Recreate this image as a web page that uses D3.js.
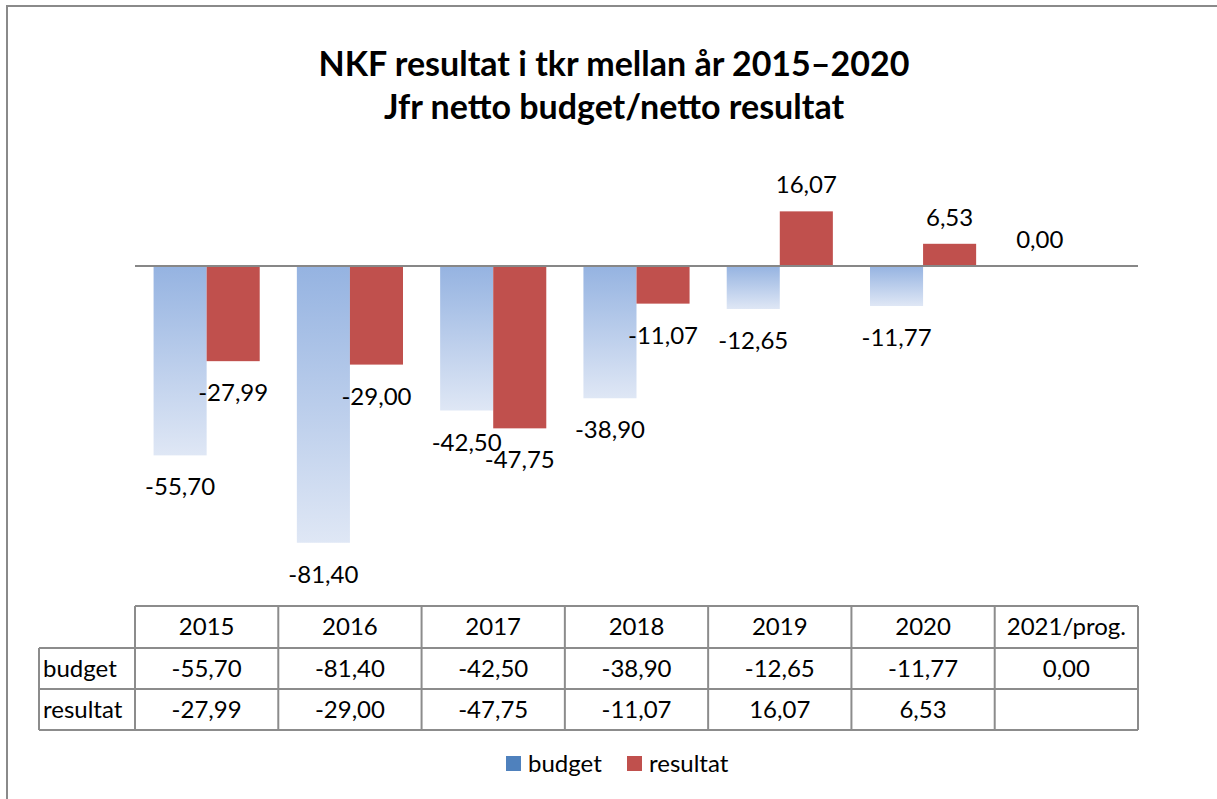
<!DOCTYPE html>
<html>
<head>
<meta charset="utf-8">
<script src="https://cdn.jsdelivr.net/npm/d3@7"></script>
<style>
  body { margin: 0; background: #fff; }
  svg { display: block; font-family: Lato, "Open Sans", sans-serif; }
</style>
</head>
<body>
<div id="chart"></div>
<script>
// data
var categories = ["2015", "2016", "2017", "2018", "2019", "2020", "2021/prog."];
var seriesNames = ["budget", "resultat"];
var budget = [-55.70, -81.40, -42.50, -38.90, -12.65, -11.77, 0.00];
var resultat = [-27.99, -29.00, -47.75, -11.07, 16.07, 6.53, null];
var titleLines = ["NKF resultat i tkr mellan år 2015\u20132020", "Jfr netto budget/netto resultat"];

var width = 1217, height = 799;
var plot = { left: 135, right: 1138, top: 198, bottom: 606 };

var colors = { budget: "#4f81bd", resultat: "#c0504d" };

function fmt(v) {
    // comma decimals and a plain hyphen, like the original
    return d3.format(".2f")(v).replace(".", ",").replace("\u2212", "-");
}

var svg = d3.select("#chart").append("svg")
    .attr("width", width)
    .attr("height", height);

// gradient for the budget bars
var grad = svg.append("defs").append("linearGradient")
    .attr("id", "budgetGrad")
    .attr("x1", 0).attr("y1", 0).attr("x2", 0).attr("y2", 1);
grad.append("stop").attr("offset", "0%").attr("stop-color", "#95b3e1");
grad.append("stop").attr("offset", "100%").attr("stop-color", "#dfe7f5");

// outer frame (cut off at right and bottom like the screenshot)
svg.append("rect")
    .attr("x", 7).attr("y", 6)
    .attr("width", width + 20).attr("height", height + 20)
    .attr("fill", "none")
    .attr("stroke", "#8a8a8a")
    .attr("stroke-width", 2);

// title
svg.append("text")
    .attr("x", 614).attr("y", 76)
    .attr("text-anchor", "middle")
    .style("font-size", "34px")
    .style("font-weight", "bold")
    .text(titleLines[0]);
svg.append("text")
    .attr("x", 614).attr("y", 119)
    .attr("text-anchor", "middle")
    .style("font-size", "34px")
    .style("font-weight", "bold")
    .text(titleLines[1]);

var xScale = d3.scaleBand()
    .domain(categories)
    .range([plot.left, plot.right])
    .paddingInner(0).paddingOuter(0);

var xSub = d3.scaleBand()
    .domain(seriesNames)
    .range([0, xScale.bandwidth()])
    .paddingInner(0)
    .paddingOuter(0.35);

var yScale = d3.scaleLinear()
    .domain([-100, 20])
    .range([plot.bottom, plot.top]);

var rows = categories.map(function(c, i) {
    return { cat: c, budget: budget[i], resultat: resultat[i] };
});

var groups = svg.selectAll(".cat")
    .data(rows)
    .enter().append("g")
    .attr("class", "cat")
    .attr("transform", function(d) { return "translate(" + xScale(d.cat) + ",0)"; });

seriesNames.forEach(function(s) {
    var valid = groups.filter(function(d) { return d[s] !== null; });
    valid.append("rect")
        .attr("x", xSub(s))
        .attr("width", xSub.bandwidth())
        .attr("y", function(d) { return yScale(Math.max(0, d[s])); })
        .attr("height", function(d) { return Math.abs(yScale(d[s]) - yScale(0)); })
        .attr("fill", s === "budget" ? "url(#budgetGrad)" : colors.resultat);

    valid.append("text")
        .attr("x", xSub(s) + xSub.bandwidth() / 2)
        .attr("y", function(d) {
            return d[s] < 0 ? yScale(d[s]) + 40 : yScale(d[s]) - 18;
        })
        .attr("text-anchor", "middle")
        .style("font-size", "24px")
        .attr("fill", "#000")
        .text(function(d) { return fmt(d[s]); });
});

// zero line
svg.append("line")
    .attr("x1", plot.left).attr("x2", plot.right)
    .attr("y1", yScale(0)).attr("y2", yScale(0))
    .attr("stroke", "#878787")
    .attr("stroke-width", 2);

// data table
var tableTop = 606, rowH = [42, 41, 41], labelLeft = 39;
var rowY = [tableTop, tableTop + rowH[0], tableTop + rowH[0] + rowH[1], tableTop + rowH[0] + rowH[1] + rowH[2]];
var table = svg.append("g").attr("class", "table");
var lineColor = "#8c8c8c";

// horizontal lines
table.append("line").attr("x1", plot.left).attr("x2", plot.right)
    .attr("y1", rowY[0]).attr("y2", rowY[0]);
[1, 2, 3].forEach(function(i) {
    table.append("line").attr("x1", labelLeft).attr("x2", plot.right)
        .attr("y1", rowY[i]).attr("y2", rowY[i]);
});
// vertical lines
table.append("line").attr("x1", labelLeft).attr("x2", labelLeft)
    .attr("y1", rowY[1]).attr("y2", rowY[3]);
categories.forEach(function(c) {
    table.append("line").attr("x1", xScale(c)).attr("x2", xScale(c))
        .attr("y1", rowY[0]).attr("y2", rowY[3]);
});
table.append("line").attr("x1", plot.right).attr("x2", plot.right)
    .attr("y1", rowY[0]).attr("y2", rowY[3]);
table.selectAll("line").attr("stroke", lineColor).attr("stroke-width", 2);

// header texts
table.selectAll(".hdr")
    .data(categories)
    .enter().append("text")
    .attr("class", "hdr")
    .attr("x", function(d) { return xScale(d) + xScale.bandwidth() / 2; })
    .attr("y", (rowY[0] + rowY[1]) / 2 + 8)
    .attr("text-anchor", "middle")
    .style("font-size", "24px")
    .text(function(d) { return d; });

seriesNames.forEach(function(s, si) {
    var cy = (rowY[si + 1] + rowY[si + 2]) / 2 + 8;
    table.append("text")
        .attr("x", labelLeft + 4).attr("y", cy)
        .style("font-size", "24px")
        .text(s);
    table.selectAll(".cell-" + s)
        .data(rows.filter(function(d) { return d[s] !== null; }))
        .enter().append("text")
        .attr("class", "cell-" + s)
        .attr("x", function(d) { return xScale(d.cat) + xScale.bandwidth() / 2; })
        .attr("y", cy)
        .attr("text-anchor", "middle")
        .style("font-size", "24px")
        .text(function(d) { return fmt(d[s]); });
});

// legend
var legend = svg.append("g").attr("class", "legend");
var legendX = [506, 627];
seriesNames.forEach(function(s, i) {
    legend.append("rect")
        .attr("x", legendX[i]).attr("y", 756)
        .attr("width", 15).attr("height", 15)
        .attr("fill", colors[s]);
    legend.append("text")
        .attr("x", legendX[i] + 22).attr("y", 772)
        .style("font-size", "24px")
        .text(s);
});
</script>
</body>
</html>
